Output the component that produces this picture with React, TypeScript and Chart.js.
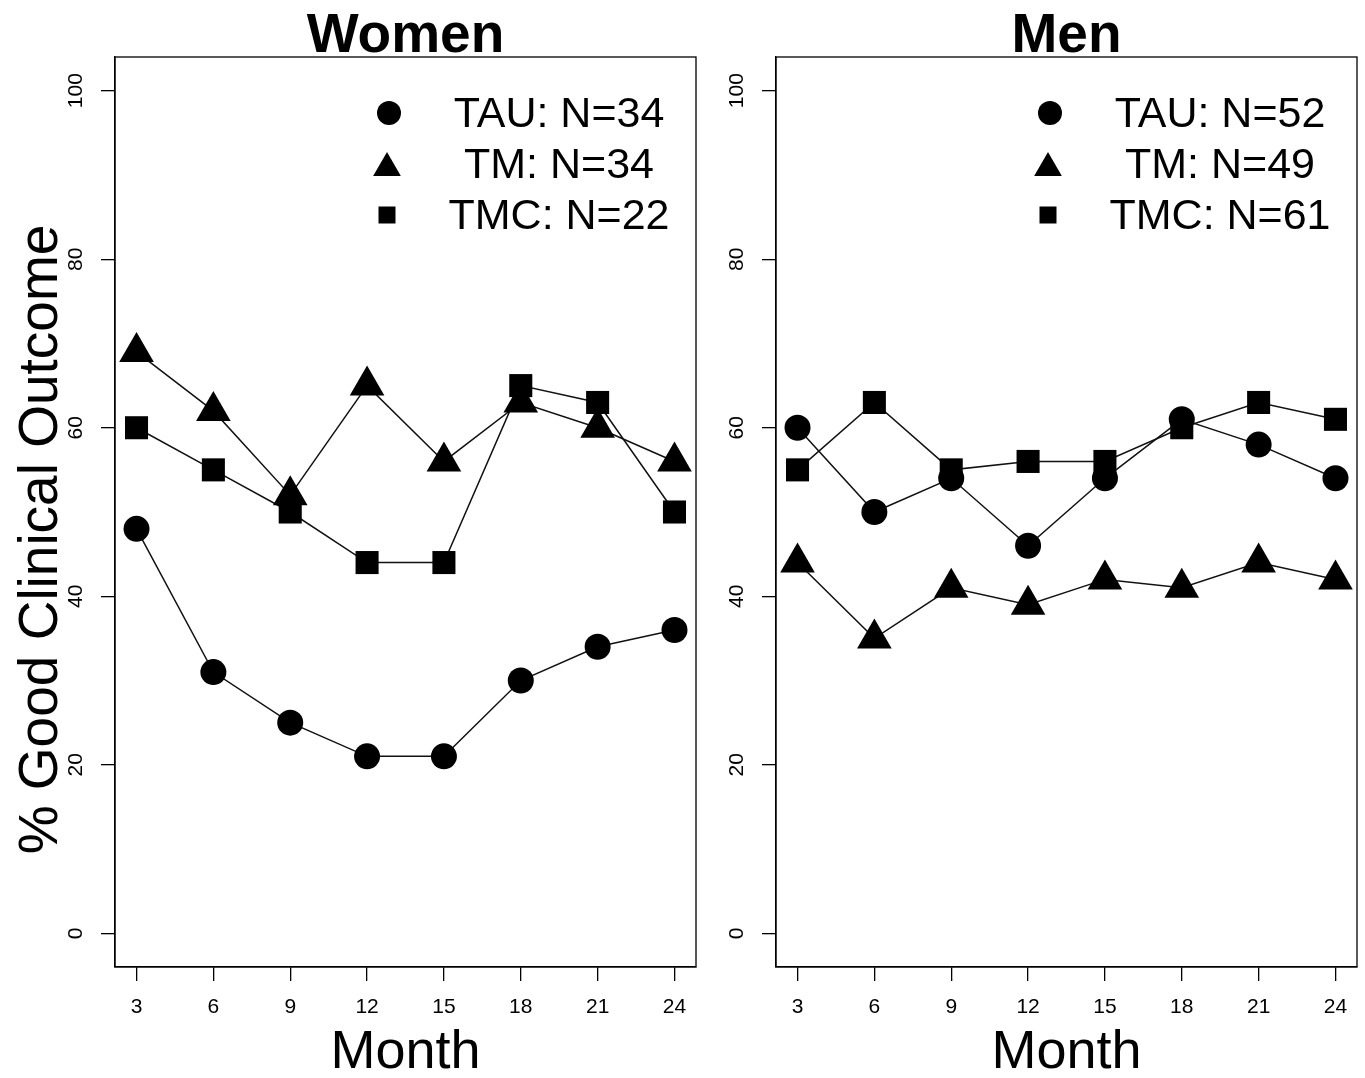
import React, { useEffect, useRef } from "react";
import { Chart, registerables } from "chart.js";

Chart.register(...registerables);

const FONT = '"Liberation Sans", Arial, Helvetica, sans-serif';

const MONTHS = [3, 6, 9, 12, 15, 18, 21, 24];
const Y_TICKS = [0, 20, 40, 60, 80, 100];

const WOMEN_TAU = [48, 31, 25, 21, 21, 30, 34, 36];
const WOMEN_TM = [69, 62, 52, 65, 56, 63, 60, 56];
const WOMEN_TMC = [60, 55, 50, 44, 44, 65, 63, 50];
const WOMEN_LEGEND = ["TAU: N=34", "TM: N=34", "TMC: N=22"];

const MEN_TAU = [60, 50, 54, 46, 54, 61, 58, 54];
const MEN_TM = [44, 35, 41, 39, 42, 41, 44, 42];
const MEN_TMC = [55, 63, 55, 56, 56, 60, 63, 61];
const MEN_LEGEND = ["TAU: N=52", "TM: N=49", "TMC: N=61"];

const Y_TITLE = "% Good Clinical Outcome";
const X_TITLE = "Month";

const SHAPES = ["circle", "triangle", "rect"];
const DATA_RADIUS: Record<string, number> = { circle: 13, triangle: 20, rect: 16.3 };

function drawShape(ctx: CanvasRenderingContext2D, shape: string, x: number, y: number, r: number) {
  ctx.beginPath();
  if (shape === "circle") {
    ctx.arc(x, y, r, 0, Math.PI * 2);
  } else if (shape === "triangle") {
    ctx.moveTo(x, y - r);
    ctx.lineTo(x + r * 0.866, y + r / 2);
    ctx.lineTo(x - r * 0.866, y + r / 2);
    ctx.closePath();
  } else {
    ctx.rect(x - r, y - r, 2 * r, 2 * r);
  }
  ctx.fill();
}

const decorPlugin = {
  id: "panelDecor",
  afterDraw(chart: any, _args: any, opts: any) {
    const { ctx, chartArea: a, scales } = chart;
    ctx.save();
    ctx.strokeStyle = "#000";
    ctx.lineWidth = 1.3;
    ctx.strokeRect(a.left, a.top, a.right - a.left, a.bottom - a.top);

    ctx.fillStyle = "#000";
    const cx = (a.left + a.right) / 2;
    ctx.textAlign = "center";
    ctx.textBaseline = "alphabetic";
    ctx.font = `bold 55px ${FONT}`;
    ctx.fillText(opts.title, cx, 52);

    ctx.font = `54px ${FONT}`;
    ctx.fillText(X_TITLE, cx, 1068);

    const ys = scales.y;
    ctx.font = `21px ${FONT}`;
    ys.ticks.forEach((t: any) => {
      const py = ys.getPixelForValue(t.value);
      ctx.save();
      ctx.translate(a.left - 33, py);
      ctx.rotate(-Math.PI / 2);
      ctx.fillText(String(t.value), 0, 0);
      ctx.restore();
    });

    if (opts.yTitle) {
      ctx.font = `55px ${FONT}`;
      ctx.save();
      ctx.translate(56.5, 539.5);
      ctx.rotate(-Math.PI / 2);
      ctx.fillText(opts.yTitle, 0, 0);
      ctx.restore();
    }

    // legend
    const legendShapes = [
      { shape: "circle", r: 12, dx: -307, dy: 56 },
      { shape: "triangle", r: 16, dx: -309, dy: 111 },
      { shape: "rect", r: 8.5, dx: -309, dy: 158 },
    ];
    const textDy = [70, 121, 172];
    ctx.font = `43px ${FONT}`;
    opts.legend.forEach((label: string, i: number) => {
      const s = legendShapes[i];
      drawShape(ctx, s.shape, a.right + s.dx, a.top + s.dy, s.r);
      ctx.fillText(label, a.right - 137, a.top + textDy[i]);
    });
    ctx.restore();
  },
};

type PanelProps = {
  title: string;
  series: number[][];
  legend: string[];
  yTitle?: string;
  left: number;
};

function Panel({ title, series, legend, yTitle, left }: PanelProps) {
  const ref = useRef<HTMLCanvasElement | null>(null);
  useEffect(() => {
    if (!ref.current) return;
    const datasets = series.map((vals, i) => ({
      label: legend[i],
      data: MONTHS.map((m, j) => ({ x: m, y: vals[j] })),
      borderColor: "#111",
      borderWidth: 1.5,
      pointStyle: SHAPES[i] as any,
      pointRadius: DATA_RADIUS[SHAPES[i]],
      pointBackgroundColor: "#000",
      pointBorderColor: "#000",
      pointBorderWidth: 0,
      tension: 0,
      fill: false,
    }));
    const chart = new Chart(ref.current, {
      type: "line",
      data: { datasets },
      plugins: [decorPlugin],
      options: {
        responsive: false,
        animation: false,
        events: [],
        layout: { autoPadding: false, padding: { left: 0, top: 57, right: 4, bottom: 0 } },
        plugins: {
          legend: { display: false },
          tooltip: { enabled: false },
          title: { display: false },
          panelDecor: { title, legend, yTitle },
        } as any,
        scales: {
          x: {
            type: "linear",
            min: 2.16,
            max: 24.84,
            afterBuildTicks: (s: any) => {
              s.ticks = MONTHS.map((v) => ({ value: v }));
            },
            afterFit: (s: any) => {
              s.height = 111;
              s.paddingLeft = 0;
              s.paddingRight = 0;
            },
            ticks: {
              color: "#000",
              font: { family: FONT, size: 21 },
              padding: 14,
              maxRotation: 0,
              autoSkip: false,
            },
            grid: {
              display: true,
              drawOnChartArea: false,
              drawTicks: true,
              tickLength: 14,
              color: "#000",
              lineWidth: 1.3,
            },
            border: { display: true, color: "#000", width: 1.3 },
          },
          y: {
            type: "linear",
            min: -4,
            max: 104,
            afterBuildTicks: (s: any) => {
              s.ticks = Y_TICKS.map((v) => ({ value: v }));
            },
            afterFit: (s: any) => {
              s.width = 115;
              s.paddingTop = 0;
              s.paddingBottom = 0;
            },
            ticks: { display: false },
            grid: {
              display: true,
              drawOnChartArea: false,
              drawTicks: true,
              tickLength: 14,
              color: "#000",
              lineWidth: 1.3,
            },
            border: { display: true, color: "#000", width: 1.3 },
          },
        },
      },
    });
    return () => chart.destroy();
  }, []);
  return (
    <canvas
      ref={ref}
      width={700}
      height={1078}
      style={{ position: "absolute", left, top: 0, width: 700, height: 1078 }}
    />
  );
}

export default function App() {
  return (
    <div
      style={{
        position: "absolute",
        left: 0,
        top: 0,
        width: 1365,
        height: 1078,
        background: "#fff",
        overflow: "hidden",
      }}
    >
      <Panel
        title="Women"
        series={[WOMEN_TAU, WOMEN_TM, WOMEN_TMC]}
        legend={WOMEN_LEGEND}
        yTitle={Y_TITLE}
        left={0}
      />
      <Panel
        title="Men"
        series={[MEN_TAU, MEN_TM, MEN_TMC]}
        legend={MEN_LEGEND}
        left={661}
      />
    </div>
  );
}
